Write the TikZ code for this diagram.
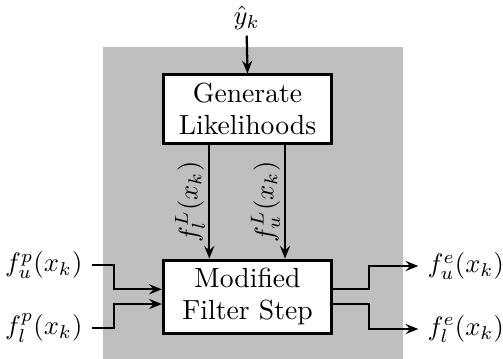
\documentclass[tikz,border=0pt]{standalone}
\usetikzlibrary{arrows.meta,calc}
\begin{document}
\begin{tikzpicture}[x=0.376pt,y=-0.376pt,
  every node/.style={font=\fontsize{10.4}{12}\selectfont},
  blockbox/.style={draw,fill=white,line width=1.1pt,align=center,minimum width=63.3pt,inner sep=3.1pt},
  conn/.style={line width=0.85pt,-{Stealth[length=4.8pt,width=3.8pt,inset=1.7pt]}},
  lbl/.style={inner sep=3.3pt}]
\useasboundingbox (0,0) rectangle (503,358);
\fill[lightgray] (103.3,46.7) rectangle (403.3,360);
\node[blockbox] (gen) at (247.5,109) {Generate\\Likelihoods};
\node[blockbox] (mod) at (247.5,296.7) {Modified\\Filter Step};
\node[lbl,inner sep=2pt] (yhat) at (246.7,18) {$\hat{y}_k$};
\draw[conn] (yhat.south) -- (gen.north);
\coordinate (lx) at (209.3,0);
\coordinate (ux) at (285,0);
\draw[conn] (gen.south -| lx) -- (mod.north -| lx);
\draw[conn] (gen.south -| ux) -- (mod.north -| ux);
\node[rotate=90] (flL) at (190,202) {$f_l^L(x_k)$};
\node[rotate=90] (fuL) at (265.5,202) {$f_u^L(x_k)$};
\node[lbl,anchor=east] (fup) at (91.7,265) {$f_u^p(x_k)$};
\node[lbl,anchor=east] (flp) at (91.7,327.7) {$f_l^p(x_k)$};
\coordinate (ja) at (114.3,289.3);
\coordinate (jb) at (114.3,304);
\draw[conn] (fup.east) -| (ja) -- (mod.west |- ja);
\draw[conn] (flp.east) -| (jb) -- (mod.west |- jb);
\node[lbl,anchor=west] (fue) at (418.3,266) {$f_u^e(x_k)$};
\node[lbl,anchor=west] (fle) at (418.3,329) {$f_l^e(x_k)$};
\coordinate (jc) at (369.3,289.3);
\coordinate (jd) at (369.3,304);
\draw[conn] (mod.east |- jc) -- (jc) |- (fue.west);
\draw[conn] (mod.east |- jd) -- (jd) |- (fle.west);
\end{tikzpicture}
\end{document}
